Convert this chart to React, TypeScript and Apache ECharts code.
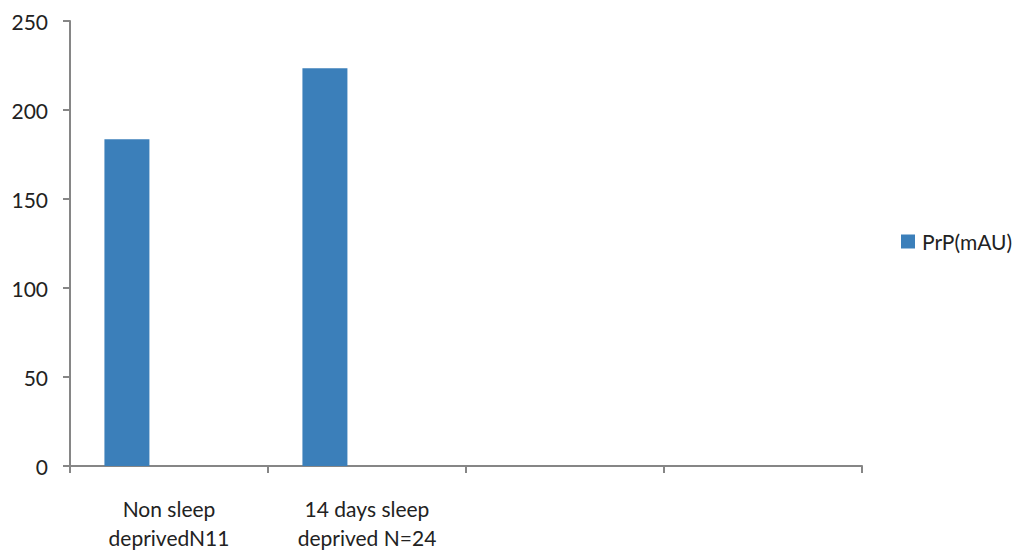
import React, { useEffect, useRef } from "react";
import * as echarts from "echarts";

const categories = ["Non sleep\ndeprivedN11", "14 days sleep\ndeprived N=24", "", ""];
const prpValues = [183.5, 223.4, null, null];
const spacerValues = [null, null, null, null];
const seriesName = "PrP(mAU)";

export default function App() {
  const ref = useRef<HTMLDivElement>(null);
  useEffect(() => {
    if (!ref.current) return;
    const chart = echarts.init(ref.current, null, { renderer: "svg" });
    const font = "Lato, 'Open Sans', sans-serif";
    chart.setOption({
      animation: false,
      grid: { left: 62, right: 155, top: 13, bottom: 88, containLabel: false, outerBoundsMode: "none" },
      legend: {
        data: [seriesName],
        orient: "vertical",
        left: 888,
        top: 218,
        itemWidth: 14,
        itemHeight: 14,
        icon: "rect",
        textStyle: { fontFamily: font, fontSize: 21, color: "#222", padding: [0, 0, 0, 2] },
      },
      xAxis: {
        type: "category",
        data: categories,
        axisLine: { show: true, lineStyle: { color: "#868686", width: 2 } },
        axisTick: { show: true, interval: 0, length: 7, lineStyle: { color: "#868686", width: 2 } },
        axisLabel: {
          interval: 0,
          fontFamily: font,
          fontSize: 21,
          lineHeight: 29,
          color: "#222",
          margin: 28,
        },
        splitLine: { show: false },
      },
      yAxis: {
        type: "value",
        min: 0,
        max: 250,
        interval: 50,
        axisLine: { show: true, lineStyle: { color: "#868686", width: 2 } },
        axisTick: { show: true, length: 7, lineStyle: { color: "#868686", width: 2 } },
        axisLabel: { fontFamily: font, fontSize: 21, color: "#222", margin: 22 },
        splitLine: { show: false },
      },
      series: [
        {
          name: seriesName,
          type: "bar",
          data: prpValues,
          barWidth: 45,
          barGap: "87%",
          itemStyle: { color: "#3B7FBA" },
        },
        {
          name: "spacer",
          type: "bar",
          data: spacerValues,
          barWidth: 45,
          barGap: "87%",
          itemStyle: { color: "transparent" },
        },
      ],
    });
    return () => chart.dispose();
  }, []);
  return <div ref={ref} style={{ width: 1009, height: 546 }} />;
}
